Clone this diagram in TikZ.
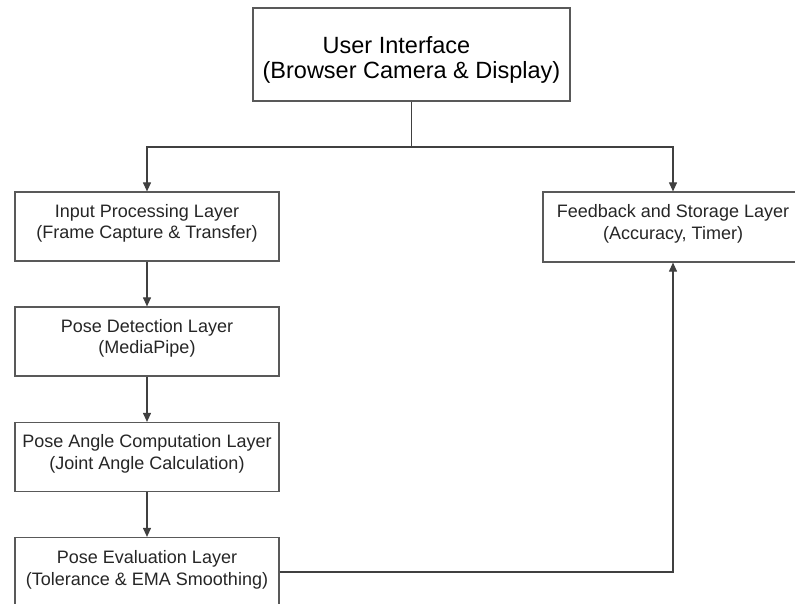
\documentclass[tikz,border=0pt]{standalone}
\usepackage{fontspec}
\setmainfont{Liberation Sans}
\usetikzlibrary{arrows.meta}
\begin{document}
\begin{tikzpicture}[x=1pt,y=-1pt,
  layerbox/.style={draw=black!65, line width=1.2pt, fill=white, inner sep=0pt, minimum width=264pt, minimum height=69pt},
  layertext/.style={inner sep=0pt, align=center, font=\fontsize{18}{21.5}\selectfont, text=black!85},
  conn/.style={draw=black!75, line width=1.1pt},
  arr/.style={conn, -{Triangle[length=9pt,width=8pt]}}]
\useasboundingbox (0,0) rectangle (795,604);
\clip (0,0) rectangle (795,604);
\fill[white] (0,0) rectangle (795,604);
\node[layerbox, minimum width=317pt, minimum height=93pt] (ui) at (411.5,54.5) {};
\node[layertext, font=\fontsize{23.5}{25}\selectfont, text=black] (uit) at (411.5,60)
  {User Interface\hspace*{30pt}\\(Browser Camera \& Display)};
\node[layerbox] (inp) at (147,226.5) {};
\node[layertext] (inpt) at (147,223.5) {Input Processing Layer\\(Frame Capture \& Transfer)};
\node[layerbox] (det) at (147,341.5) {};
\node[layertext] (dett) at (147,338.5) {Pose Detection Layer\\(MediaPipe)};
\node[layerbox] (ang) at (147,457) {};
\node[layertext] (angt) at (147,454) {Pose Angle Computation Layer\\(Joint Angle Calculation)};
\node[layerbox] (eva) at (147,572) {};
\node[layertext] (evat) at (147,570) {Pose Evaluation Layer\\(Tolerance \& EMA Smoothing)};
\node[layerbox, minimum width=260pt, minimum height=70pt] (fb) at (673,227) {};
\node[layertext] (fbt) at (673,224) {Feedback and Storage Layer\\(Accuracy, Timer)};
\coordinate (br) at (411.5,147);
\draw[conn] (ui.south) -- (br);
\draw[arr] (br) -| (inp.north);
\draw[arr] (br) -| (fb.north);
\draw[arr] (inp) -- (det);
\draw[arr] (det) -- (ang);
\draw[arr] (ang) -- (eva);
\draw[arr] (eva.east) -| (fb.south);
\end{tikzpicture}
\end{document}
